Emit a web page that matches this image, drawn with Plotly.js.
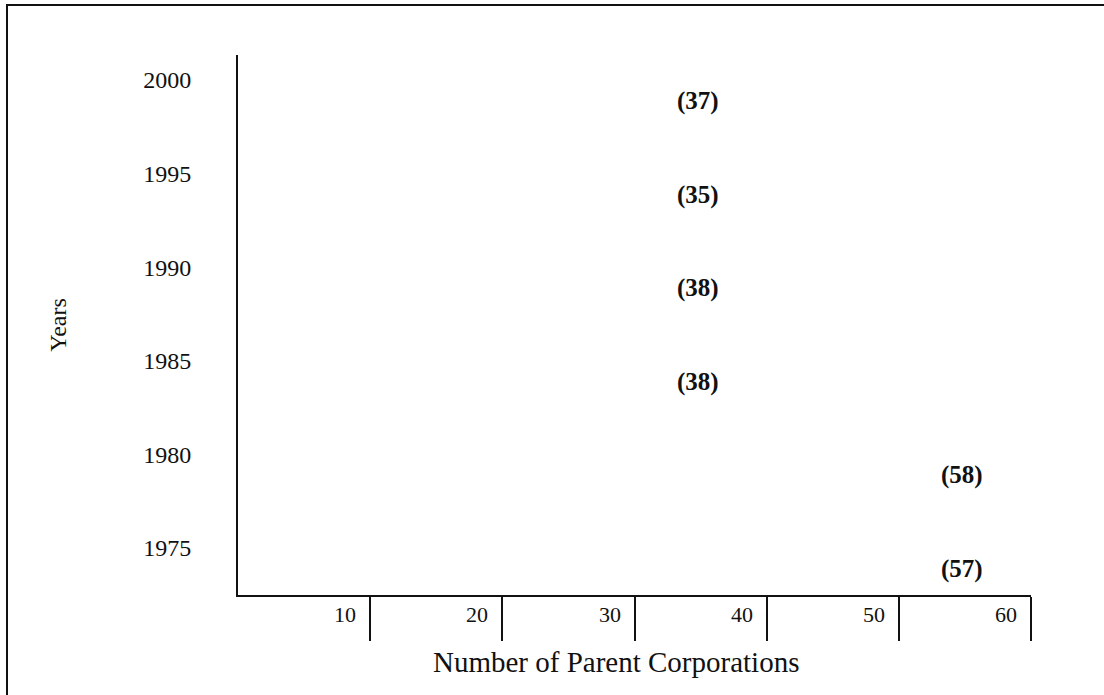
<!DOCTYPE html>
<html>
<head>
<meta charset="utf-8">
<script src="https://cdn.plot.ly/plotly-3.0.1.min.js"></script>
<style>
  html, body { margin: 0; padding: 0; background: #ffffff; }
  #chart { width: 1104px; height: 695px; }
</style>
</head>
<body>
<div id="chart"></div>
<script>
// ---- data ----
var years = [2000, 1995, 1990, 1985, 1980, 1975];
var parentCorporations = [37, 35, 38, 38, 58, 57];
var yTickLabels = ['2000', '1995', '1990', '1985', '1980', '1975'];
var xTickVals = [10, 20, 30, 40, 50, 60];
var xTickLabels = ['10', '20', '30', '40', '50', '60'];

var serif = 'Liberation Serif, Times New Roman, serif';

// label column: counts are printed in one of two columns on the chart
function labelColumn(v) { return v < 50 ? 34.8 : 54.8; }

var annotations = [];
parentCorporations.forEach(function (v, i) {
  annotations.push({
    x: labelColumn(v), y: years[i], xref: 'x', yref: 'y',
    text: '<b>(' + v + ')</b>', showarrow: false,
    xanchor: 'center', yanchor: 'middle', yshift: -21,
    font: {family: serif, size: 25, color: '#111'}
  });
});
xTickVals.forEach(function (v, i) {
  annotations.push({
    x: v, y: 0, xref: 'x', yref: 'paper',
    text: xTickLabels[i], showarrow: false,
    xanchor: 'right', yanchor: 'middle', xshift: -12, yshift: -19,
    font: {family: serif, size: 22, color: '#111'}
  });
});
annotations.push({
  x: 0.4773, y: -0.124, xref: 'paper', yref: 'paper',
  text: 'Number of Parent Corporations', showarrow: false,
  xanchor: 'center', yanchor: 'middle',
  font: {family: serif, size: 29, color: '#111'}
});

var trace = {
  type: 'scatter', mode: 'markers',
  x: parentCorporations, y: years,
  marker: {opacity: 0}, hoverinfo: 'x+y', showlegend: false
};

var layout = {
  width: 1104, height: 695,
  margin: {l: 238, r: 73, t: 55, b: 100},
  paper_bgcolor: '#ffffff', plot_bgcolor: '#ffffff',
  showlegend: false,
  xaxis: {
    range: [0, 60], showgrid: false, zeroline: false,
    showline: true, linecolor: '#111', linewidth: 2,
    ticks: 'outside', ticklen: 44, tickwidth: 2, tickcolor: '#111',
    tickvals: xTickVals, showticklabels: false, fixedrange: true
  },
  yaxis: {
    range: [1972.49, 2001.34], showgrid: false, zeroline: false,
    showline: true, linecolor: '#111', linewidth: 2,
    ticks: 'outside', ticklen: 40, tickcolor: 'rgba(0,0,0,0)',
    tickvals: years, ticktext: yTickLabels,
    tickfont: {family: serif, size: 24, color: '#111'},
    title: {text: 'Years', standoff: 70, font: {family: serif, size: 24, color: '#111'}},
    fixedrange: true
  },
  annotations: annotations,
  shapes: [{
    type: 'rect', xref: 'paper', yref: 'paper',
    x0: -0.2913, x1: 1.0996, y0: -0.1944, y1: 1.0926,
    line: {color: '#111', width: 2}, fillcolor: 'rgba(0,0,0,0)'
  }]
};

Plotly.newPlot('chart', [trace], layout, {displayModeBar: false, staticPlot: true});
</script>
</body>
</html>
